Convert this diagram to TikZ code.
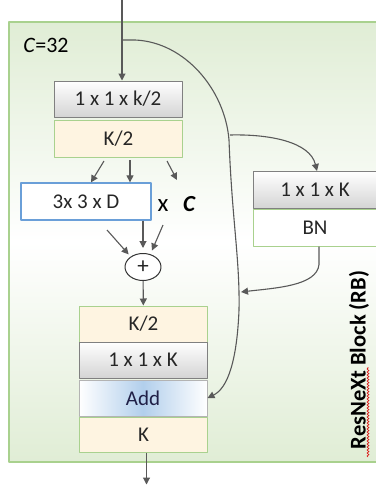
\documentclass[tikz,border=0pt]{standalone}
\usepackage{fontspec}
\setmainfont{Carlito}
\usetikzlibrary{arrows.meta,shapes.geometric,decorations.pathmorphing}
\definecolor{rbgreen}{HTML}{A9D18E}
\definecolor{rbpale}{HTML}{E0EDD5}
\definecolor{rbcream}{HTML}{FEF4E1}
\definecolor{rbgray}{HTML}{808080}
\definecolor{rbshade}{HTML}{D4D4D4}
\definecolor{rbblue}{HTML}{6A9FD8}
\definecolor{rbsky}{HTML}{B2CFEC}
\definecolor{rbline}{HTML}{595959}
\definecolor{rbtext}{HTML}{262626}

\begin{document}
\begin{tikzpicture}[x=1pt, y=-1pt, line join=round,
  every node/.style={font=\fontsize{21}{25}\selectfont, text=rbtext, inner sep=0pt},
  blk/.style={minimum width=128pt, minimum height=36pt, line width=1pt},
  conv/.style={blk, draw=rbgray, top color=white, bottom color=rbshade},
  feat/.style={blk, draw=rbgreen, fill=rbcream},
  wire/.style={draw=rbline, line width=1.1pt},
  link/.style={wire, -{Triangle[length=7pt,width=7pt]}}]

  %% ════ 外框（RB 背景）════
  \path[draw=rbgreen, line width=1.5pt, top color=rbpale, bottom color=rbpale, middle color=white]
    (9,22) rectangle (377,462);

  %% ════ 主干 ════
  \node[conv] (convA) at (118,99) {1 x 1 x k/2};
  \node[feat, minimum height=37pt] (featA) at (118.5,138.5) {K/2};
  \node[blk, draw=rbblue, line width=1.3pt, fill=white, minimum width=130pt, minimum height=37pt] (group) at (86,201.5) {3x 3 x D};
  \node[font=\fontsize{25}{29}\selectfont, text=black] (mult) at (163,206) {x};
  \node[font=\bfseries\itshape\fontsize{23}{27}\selectfont, text=black] (card) at (189,204) {C};
  \node[ellipse, draw=black!80, line width=1pt, fill=white, minimum width=36pt, minimum height=27pt, font=\fontsize{23}{27}\selectfont] (plus) at (143,267) {+};
  \node[feat] (featB) at (143.5,324) {K/2};
  \node[conv] (convB) at (143,360) {1 x 1 x K};
  \node[blk, draw=rbgray!60, left color=white, right color=white, middle color=rbsky, text=rbtext!85!blue] (add) at (143,398) {Add};
  \node[feat, minimum height=35pt] (featC) at (143.5,434.5) {K};

  %% ════ 旁路（1x1 投影）════
  \node[conv, minimum width=124pt, minimum height=37pt] (convC) at (315,190) {1 x 1 x K};
  \node[blk, draw=rbgreen, fill=white, minimum width=124pt, minimum height=37pt] (bn) at (315,227.5) {BN};

  %% ════ 标签 ════
  \node[font=\fontsize{22}{26}\selectfont, text=black] (card32) at (46,45) {\textit{C}=32};
  \node[rotate=90, font=\bfseries\fontsize{22.5}{27}\selectfont, text=black] (title) at (359,360) {ResNeXt Block (RB)};
  \draw[red!85!black, line width=0.6pt, decorate, decoration={snake, amplitude=1pt, segment length=3pt}]
    (368,457) -- (368,367);

  %% ════ 连线 ════
  \coordinate (in)   at (122,0);
  \coordinate (sk)   at (122,40);
  \coordinate (br)   at (230,135);
  \coordinate (jn)   at (241,292);
  \coordinate (fanL) at (104,161);
  \coordinate (fanM) at (130,160);
  \coordinate (fanR) at (167,161);
  \coordinate (endR) at (177,180);
  \coordinate (sumL) at (107,230);
  \coordinate (sumR) at (163,225);

  \draw[link] (in) -- (in |- convA.north);
  \draw[link] (sk) -- (135,40) .. controls (185,42) and (225,90) .. (229,140)
    .. controls (232,220) and (240,260) .. (239,310)
    .. controls (237,360) and (228,388) .. (add.east);
  \draw[link] (br) .. controls (270,134) and (310,142) .. ([xshift=2pt]convC.north);
  \draw[link] ([xshift=4pt]bn.south) -- ++(0,18) .. controls (317,286) and (275,288) .. (jn);

  \draw[link] (fanL) -- ([xshift=5pt]group.north);
  \draw[link] (fanM) -- (fanM |- group.north);
  \draw[link] (fanR) -- (endR);
  \draw[link, shorten >=3pt] (sumL) -- (plus.140);
  \draw[link, shorten >=5pt] ([xshift=57pt]group.south) -- (plus.north);
  \draw[link, shorten >=4pt] (sumR) -- (plus.60);
  \draw[link] (plus) -- (featB);
  \draw[link] ([xshift=3pt]featC.south) -- ++(0,32);

  \pgfresetboundingbox
  \path[use as bounding box] (0,0) rectangle (375,487);
\end{tikzpicture}
\end{document}
